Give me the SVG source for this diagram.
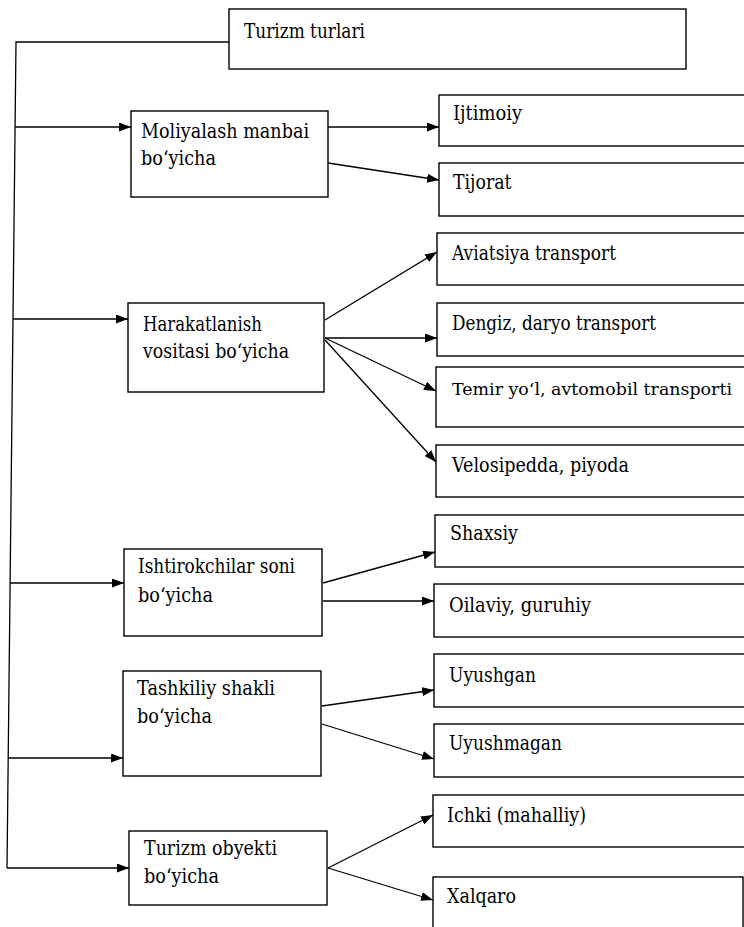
<svg xmlns="http://www.w3.org/2000/svg" width="744" height="927" viewBox="0 0 744 927">
<style>
.box{fill:#fff;stroke:#000;stroke-width:1.4}
.t{font-family:'DejaVu Serif',serif;font-size:19.5px;fill:#000}
.c{fill:none;stroke:#000;stroke-width:1.3}
.a{fill:none;stroke:#000;stroke-width:1.3;marker-end:url(#ah)}
</style>
<defs>
<marker id="ah" markerUnits="userSpaceOnUse" markerWidth="12" markerHeight="9" refX="12" refY="4.5" orient="auto">
<path d="M0,0 L12,4.5 L0,9 z" fill="#000"/>
</marker>
</defs>
<rect width="744" height="927" fill="#fff"/>
<g id="connectors">
<polyline class="c" points="229,42 16,42 7,868"/>
<line class="a" x1="15.1" y1="127" x2="131" y2="127"/>
<line class="a" x1="13" y1="319" x2="128" y2="319"/>
<line class="a" x1="10.1" y1="583" x2="124" y2="583"/>
<line class="a" x1="8.2" y1="758" x2="123" y2="758"/>
<line class="a" x1="7" y1="868" x2="129" y2="868"/>
<line class="a" x1="328" y1="127" x2="439" y2="127"/>
<line class="a" x1="328" y1="163" x2="439" y2="180"/>
<line class="a" x1="325" y1="320" x2="437" y2="252"/>
<line class="a" x1="325" y1="338" x2="437" y2="338"/>
<line class="a" x1="325" y1="338" x2="436" y2="391"/>
<line class="a" x1="325" y1="340" x2="436" y2="462"/>
<line class="a" x1="323" y1="583" x2="435" y2="552"/>
<line class="a" x1="323" y1="601" x2="434" y2="601"/>
<line class="a" x1="322" y1="706" x2="434" y2="690"/>
<line class="a" x1="322" y1="724" x2="434" y2="759"/>
<line class="a" x1="328" y1="868" x2="433" y2="815"/>
<line class="a" x1="328" y1="868" x2="433" y2="900"/>
</g>
<g id="root"><rect class="box" x="229" y="9" width="457" height="60"/><text class="t" x="244" y="38" textLength="121" lengthAdjust="spacingAndGlyphs">Turizm turlari</text></g>
<g id="moliyalash"><rect class="box" x="131" y="111" width="197" height="86"/><text class="t" x="141" y="138" textLength="168" lengthAdjust="spacingAndGlyphs">Moliyalash manbai</text><text class="t" x="141" y="165" textLength="75" lengthAdjust="spacingAndGlyphs">bo‘yicha</text></g>
<g id="harakatlanish"><rect class="box" x="128" y="303" width="196" height="89"/><text class="t" x="143" y="331" textLength="119" lengthAdjust="spacingAndGlyphs">Harakatlanish</text><text class="t" x="143" y="358" textLength="146" lengthAdjust="spacingAndGlyphs">vositasi bo‘yicha</text></g>
<g id="ishtirokchilar"><rect class="box" x="124" y="549" width="198" height="87"/><text class="t" x="138" y="573" textLength="157" lengthAdjust="spacingAndGlyphs">Ishtirokchilar soni</text><text class="t" x="138" y="602" textLength="75" lengthAdjust="spacingAndGlyphs">bo‘yicha</text></g>
<g id="tashkiliy"><rect class="box" x="123" y="671" width="198" height="105"/><text class="t" x="137" y="695" textLength="138" lengthAdjust="spacingAndGlyphs">Tashkiliy shakli</text><text class="t" x="137" y="723" textLength="75" lengthAdjust="spacingAndGlyphs">bo‘yicha</text></g>
<g id="obyekti"><rect class="box" x="129" y="831" width="198" height="74"/><text class="t" x="144" y="855" textLength="133" lengthAdjust="spacingAndGlyphs">Turizm obyekti</text><text class="t" x="144" y="883" textLength="75" lengthAdjust="spacingAndGlyphs">bo‘yicha</text></g>
<g id="ijtimoiy"><rect class="box" x="439" y="95" width="310" height="51"/><text class="t" x="453" y="120" textLength="69" lengthAdjust="spacingAndGlyphs">Ijtimoiy</text></g>
<g id="tijorat"><rect class="box" x="439" y="163" width="310" height="53"/><text class="t" x="453" y="189" textLength="58.5" lengthAdjust="spacingAndGlyphs">Tijorat</text></g>
<g id="aviatsiya"><rect class="box" x="437" y="233" width="312" height="52"/><text class="t" x="452" y="260" textLength="164" lengthAdjust="spacingAndGlyphs">Aviatsiya transport</text></g>
<g id="dengiz"><rect class="box" x="437" y="303" width="312" height="53"/><text class="t" x="452" y="330" textLength="204" lengthAdjust="spacingAndGlyphs">Dengiz, daryo transport</text></g>
<g id="temir"><rect class="box" x="436" y="367" width="313" height="60"/><text class="t" x="452" y="395" style="font-size:17.5px" textLength="280" lengthAdjust="spacingAndGlyphs">Temir yo‘l, avtomobil transporti</text></g>
<g id="velosipedda"><rect class="box" x="436" y="445" width="313" height="52"/><text class="t" x="452" y="472" textLength="177" lengthAdjust="spacingAndGlyphs">Velosipedda, piyoda</text></g>
<g id="shaxsiy"><rect class="box" x="435" y="515" width="314" height="52"/><text class="t" x="450" y="540" textLength="68" lengthAdjust="spacingAndGlyphs">Shaxsiy</text></g>
<g id="oilaviy"><rect class="box" x="434" y="584" width="315" height="53"/><text class="t" x="449" y="612" textLength="142" lengthAdjust="spacingAndGlyphs">Oilaviy, guruhiy</text></g>
<g id="uyushgan"><rect class="box" x="434" y="654" width="315" height="53"/><text class="t" x="449" y="682" textLength="87" lengthAdjust="spacingAndGlyphs">Uyushgan</text></g>
<g id="uyushmagan"><rect class="box" x="434" y="724" width="315" height="53"/><text class="t" x="449" y="750" textLength="113" lengthAdjust="spacingAndGlyphs">Uyushmagan</text></g>
<g id="ichki"><rect class="box" x="433" y="795" width="316" height="52"/><text class="t" x="447" y="822" textLength="139" lengthAdjust="spacingAndGlyphs">Ichki (mahalliy)</text></g>
<g id="xalqaro"><rect class="box" x="433" y="877" width="310" height="60"/><text class="t" x="447" y="903" textLength="69" lengthAdjust="spacingAndGlyphs">Xalqaro</text></g>
</svg>
